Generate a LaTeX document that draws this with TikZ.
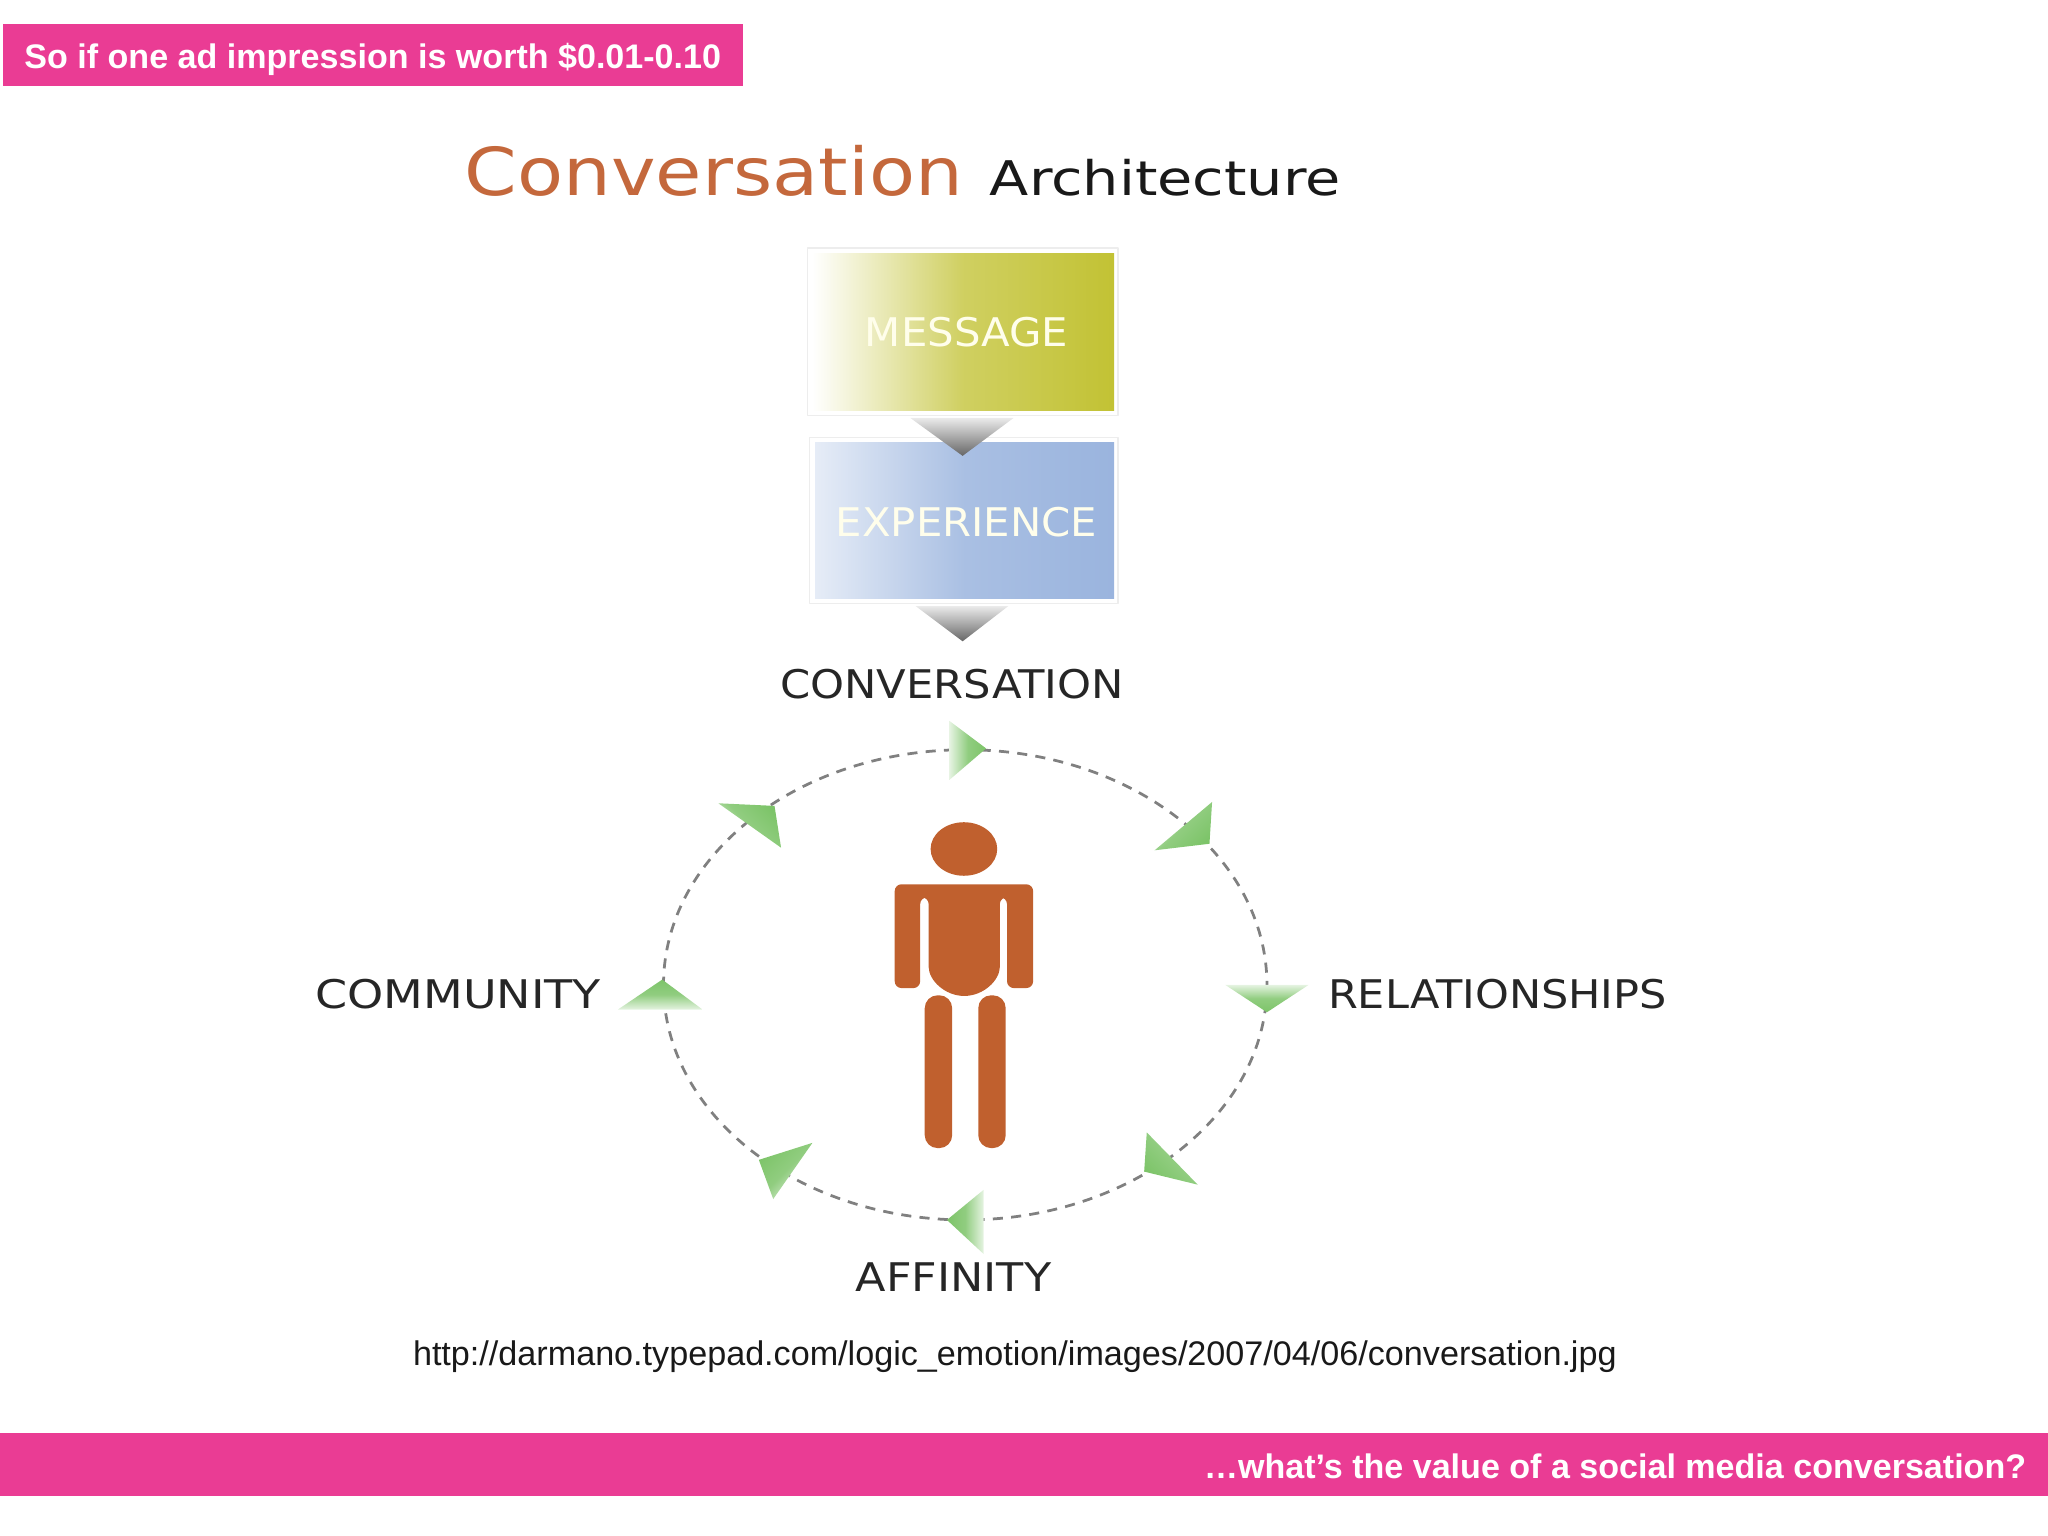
\documentclass[tikz,border=0pt]{standalone}
\usepackage{fontspec}
\setmainfont{Liberation Sans}
\newfontfamily\labelfont{DejaVu Sans}
\definecolor{barpink}{RGB}{234,60,148}
\definecolor{personbrown}{RGB}{192,96,46}
\definecolor{titleorange}{RGB}{196,104,60}
\definecolor{msgolive}{RGB}{194,194,52}
\definecolor{expblue}{RGB}{154,180,222}
\definecolor{arrowgreen}{RGB}{125,196,105}
\tikzset{
	barbox/.style={fill=barpink,inner sep=0pt,minimum height=48*.1mm},
	bartext/.style={text=white,font=\fontsize{7.42}{9}\selectfont\bfseries,inner sep=0pt},
	ringlabel/.style={text=black!85,font=\labelfont\fontsize{8.6}{10}\selectfont,inner sep=0pt},
	boxlabel/.style={text=white!92!yellow,font=\labelfont\fontsize{8.6}{10}\selectfont,inner sep=0pt,xscale=1.06},
	glowbox/.style={draw=black!7,line width=.3pt,fill=white}
}
\begin{document}
\begin{tikzpicture}[x=.1mm,y=-.1mm,line join=round,line cap=round]
	\useasboundingbox(0,0)rectangle(1568,1176);
	% bars
	\fill[barbox](2,18)rectangle(569,66);
	\fill[barbox](0,1097)rectangle(1568,1145);
	\node[bartext,anchor=west](topline) at (18,45.5){So if one ad impression is worth \$0.01-0.10};
	\node[bartext,anchor=east](bottomline) at (1552,1123){\ldots what’s the value of a social media conversation?};
	% title
	\node[anchor=base west,inner sep=0pt,text=titleorange,xscale=1.14,font=\labelfont\fontsize{14.4}{16}\selectfont](titleA) at (355,150){Conversation};
	\node[anchor=base west,inner sep=0pt,text=black!90,xscale=1.2,font=\labelfont\fontsize{10.4}{12}\selectfont](titleB) at (757,150){Architecture};
	% boxes
	\draw[glowbox](618,190)rectangle(856,318);
	\draw[glowbox](620,335)rectangle(856,462);
	\shade[left color=white,right color=msgolive,middle color=msgolive!78!white](622,194)rectangle(853,314);
	\shade[left color=expblue!25!white,right color=expblue,middle color=expblue!85!white](624,339)rectangle(853,458);
	\node[boxlabel](message) at (740,254.5){MESSAGE};
	\node[boxlabel](experience) at (740,400){EXPERIENCE};
	\shade[top color=black!8,bottom color=black!60](697,320)--(776,320)--(737,349)--cycle;
	\shade[top color=black!8,bottom color=black!60](701,464)--(772,464)--(737,491)--cycle;
	% ring
	\draw[black!50,line width=.6pt,dash pattern=on 2.2pt off 1.8pt,line cap=butt](739,754)ellipse[x radius=231,y radius=180];
	\foreach \ax/\ay/\bx/\by/\cx/\cy/\ang in {
		727/552/755/573/727/597/270,
		928/614/926/646/884/651/225,
		938/754/1002/754/970/775/180,
		878/867/917/907/876/897/135,
		753/911/753/960/725/934/90,
		622/875/581/888/592/918/45,
		507/750/538/773/473/773/0,
		550/615/593/617/598/649/-45}
	{
		\shade[top color=arrowgreen,bottom color=arrowgreen!20!white,middle color=arrowgreen!85!white,shading angle=\ang](\ax,\ay)--(\bx,\by)--(\cx,\cy)--cycle;
	}
	% person
	\fill[personbrown](738,650)ellipse[x radius=25.5,y radius=20.5];
	\fill[personbrown,rounded corners=1.5pt](685,677)--(791,677)--(791,756.5)--(771,756.5)--(771,687)--(765.5,687)--(765.5,735) arc[start angle=0,end angle=180,x radius=27.25,y radius=27.5]--(711,687)--(704.5,687)--(704.5,756.5)--(685,756.5)--cycle;
	\fill[personbrown,rounded corners=2.8pt](708,762)rectangle(729,879);
	\fill[personbrown,rounded corners=2.8pt](749,762)rectangle(770,879);
	% labels
	\node[ringlabel,xscale=1.096](conv) at (729,524){CONVERSATION};
	\node[ringlabel,anchor=west,xscale=1.09](rel) at (1016,761){RELATIONSHIPS};
	\node[ringlabel,anchor=east,xscale=1.166](comm) at (461,761){COMMUNITY};
	\node[ringlabel,xscale=1.128](aff) at (730,978){AFFINITY};
	\node[inner sep=0pt,text=black!90,font=\fontsize{7.44}{9}\selectfont](src) at (777,1039){http://darmano.typepad.com/logic\_emotion/images/2007/04/06/conversation.jpg};
\end{tikzpicture}
\end{document}
